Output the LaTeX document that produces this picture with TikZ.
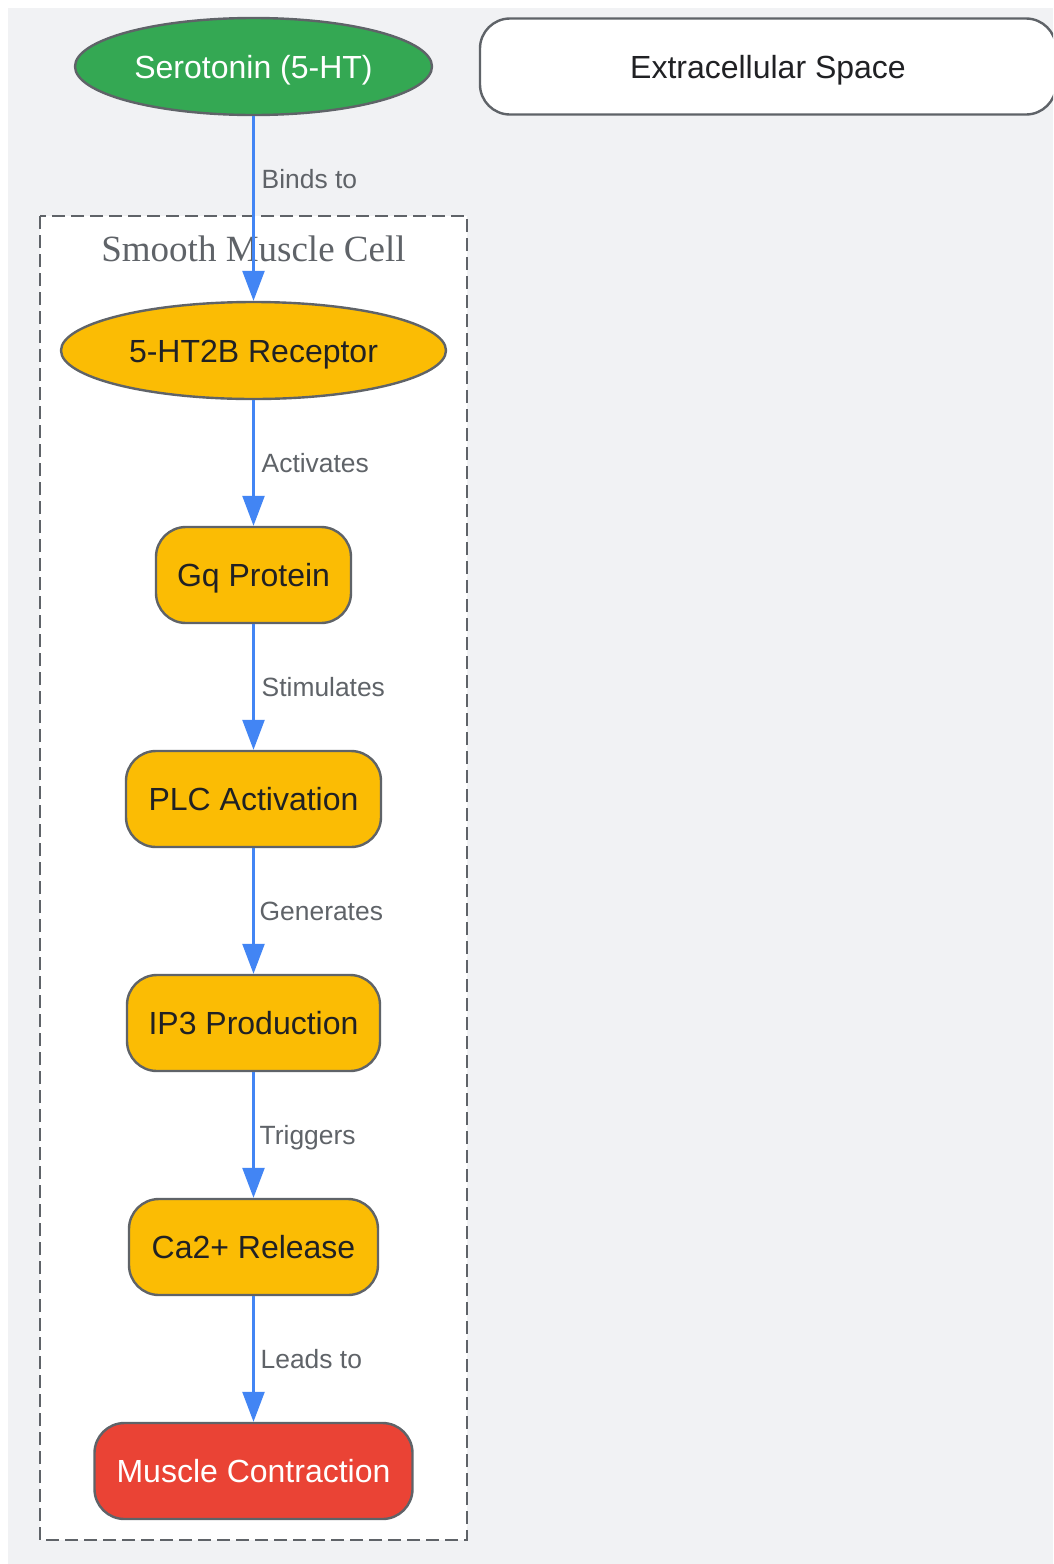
\documentclass[tikz,border=0pt]{standalone}
\usepackage{fontspec}
\setmainfont{Liberation Sans}
\newfontfamily\serifcluster{Liberation Serif}
\usetikzlibrary{arrows.meta,shapes.geometric}
\definecolor{bggray}{HTML}{F1F2F4}
\definecolor{strokegray}{HTML}{5F6368}
\definecolor{gGreen}{HTML}{34A853}
\definecolor{gYellow}{HTML}{FBBC04}
\definecolor{gRed}{HTML}{EA4335}
\definecolor{gBlue}{HTML}{4285F4}
\definecolor{darktext}{HTML}{202124}
\tikzset{
  basenode/.style={draw=strokegray, line width=2.4pt, inner sep=0pt, align=center,
    text height=23pt, text depth=0pt, font=\fontsize{32}{38}\selectfont},
  ellnode/.style={basenode, ellipse, minimum width=#1, minimum height=97pt},
  boxnode/.style={basenode, rectangle, rounded corners=30pt, minimum width=#1, minimum height=96pt},
  flow/.style={draw=gBlue, line width=2.4pt, -{Triangle[width=22pt,length=30pt]}},
  lbl/.style={anchor=west, inner sep=0pt, xshift=7pt, text=strokegray,
    text height=19pt, text depth=0pt, font=\fontsize{26.4}{30}\selectfont},
}
\begin{document}
\begin{tikzpicture}[x=1pt,y=-1pt]
\useasboundingbox (0,0) rectangle (1053,1564);
\clip (0,0) rectangle (1053,1564);
\fill[white] (0,0) rectangle (1053,1564);
\fill[bggray] (8,8) rectangle (1053,1564);
% cluster
\draw[strokegray, fill=white, line width=2.8pt, dash pattern=on 13pt off 6pt] (40,216) rectangle (467,1540);
\node[text=strokegray, text height=25pt, text depth=0pt, font=\serifcluster\fontsize{37}{42}\selectfont] (clabel) at (253.5,249) {Smooth Muscle Cell};
% nodes
\node[ellnode=357pt, fill=gGreen, text=white] (sero) at (253.5,66.5) {Serotonin (5-HT)};
\node[boxnode=576pt, fill=white, text=darktext] (extra) at (768,66.5) {Extracellular Space};
\node[ellnode=385pt, fill=gYellow, text=darktext] (rec) at (253.5,350.5) {5-HT2B Receptor};
\node[boxnode=195pt, fill=gYellow, text=darktext] (gq) at (253.5,575) {Gq Protein};
\node[boxnode=255pt, fill=gYellow, text=darktext] (plc) at (253.5,799) {PLC Activation};
\node[boxnode=253pt, fill=gYellow, text=darktext] (ip3) at (253.5,1023) {IP3 Production};
\node[boxnode=249pt, fill=gYellow, text=darktext] (ca) at (253.5,1247) {Ca2+ Release};
\node[boxnode=318pt, fill=gRed, text=white] (mc) at (253.5,1471) {Muscle Contraction};
% connectors
\draw[flow] (sero) -- node[lbl, pos=0.34] {Binds to} (rec);
\draw[flow] (rec) -- node[lbl] {Activates} (gq);
\draw[flow] (gq) -- node[lbl] {Stimulates} (plc);
\draw[flow] (plc) -- node[lbl, xshift=-2pt] {Generates} (ip3);
\draw[flow] (ip3) -- node[lbl, xshift=-2pt] {Triggers} (ca);
\draw[flow] (ca) -- node[lbl, xshift=-1pt] {Leads to} (mc);
\end{tikzpicture}
\end{document}
